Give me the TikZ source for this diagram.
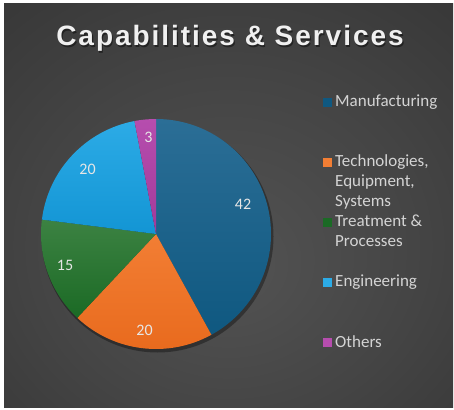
\documentclass[tikz,border=0pt]{standalone}
\usepackage{fontspec}
\setmainfont{Carlito}
\newfontfamily\headfont[LetterSpace=7]{Liberation Sans}
\usetikzlibrary{positioning}

\definecolor{bglight}{HTML}{535353}
\definecolor{bgmid}{HTML}{444444}
\definecolor{bgdark}{HTML}{262626}
\definecolor{mfgtop}{HTML}{2B6E96}
\definecolor{mfgbot}{HTML}{0F5880}
\definecolor{techtop}{HTML}{F27E34}
\definecolor{techbot}{HTML}{E8691C}
\definecolor{treattop}{HTML}{3C8242}
\definecolor{treatbot}{HTML}{1B6A25}
\definecolor{engtop}{HTML}{2CABE6}
\definecolor{engbot}{HTML}{1395D4}
\definecolor{othtop}{HTML}{B64DAE}
\definecolor{othbot}{HTML}{A23A9A}
\definecolor{valtext}{HTML}{E6E6E6}
\definecolor{keytextcol}{HTML}{D4D4D4}

\pgfdeclareradialshading{bgglow}{\pgfpoint{0bp}{-8bp}}{color(0bp)=(bglight); color(22bp)=(bgmid); color(62bp)=(bgdark)}

\tikzset{
  titletext/.style={font=\headfont\bfseries\fontsize{28}{32}\selectfont,inner sep=0pt,anchor=base},
  vallabel/.style={font=\fontsize{16}{18}\selectfont,text=valtext,inner sep=0pt,anchor=base},
  keybox/.style={minimum size=9.5pt,inner sep=0pt},
  keytext/.style={font=\fontsize{17}{20}\selectfont,text=keytextcol,inner sep=0pt,anchor=base west,align=left},
}

\begin{document}
\begin{tikzpicture}[x=1pt,y=1pt]
  \useasboundingbox (0,0) rectangle (454,409);
  \fill[white] (0,0) rectangle (454,409);
  \shade[shading=bgglow] (4,2) rectangle (453,405);

  \node[titletext,text=black,opacity=.45] (titleshadow) at (231.2,361.8) {Capabilities \& Services};
  \node[titletext,text=white!94!black] (title) at (230,363) {Capabilities \& Services};

  % pie
  \coordinate (c) at (156,175);
  \fill[black,opacity=.35] (157.5,172.5) circle (116);
  \shade[top color=mfgtop,bottom color=mfgbot] (c) -- ++(90:115) arc[start angle=90,end angle=-61.2,radius=115] -- cycle;
  \shade[top color=techtop,bottom color=techbot] (c) -- ++(-61.2:115) arc[start angle=-61.2,end angle=-133.2,radius=115] -- cycle;
  \shade[top color=treattop,bottom color=treatbot] (c) -- ++(-133.2:115) arc[start angle=-133.2,end angle=-187.2,radius=115] -- cycle;
  \shade[top color=engtop,bottom color=engbot] (c) -- ++(-187.2:115) arc[start angle=-187.2,end angle=-259.2,radius=115] -- cycle;
  \shade[top color=othtop,bottom color=othbot] (c) -- ++(-259.2:115) arc[start angle=-259.2,end angle=-270,radius=115] -- cycle;

  \node[vallabel] (vmfg) at (243,199) {42};
  \node[vallabel] (vtech) at (144.5,74) {20};
  \node[vallabel] (vtreat) at (65,138) {15};
  \node[vallabel] (veng) at (87.5,234) {20};
  \node[vallabel] (voth) at (148.5,266) {3};

  % legend (multi-line texts sit on their last line)
  \node[keytext] (tmfg) at (335,302) {Manufacturing};
  \node[keytext] (ttech) at (335,202) {Technologies,\\Equipment,\\Systems};
  \node[keytext] (ttreat) at (335,162) {Treatment \&\\Processes};
  \node[keytext] (teng) at (335,122) {Engineering};
  \node[keytext] (toth) at (335,62) {Others};
  \node[keybox,fill=mfgbot] (kmfg) at (327.5,306.5) {};
  \node[keybox,fill=techtop] (ktech) at (327.5,246.5) {};
  \node[keybox,fill=treatbot] (ktreat) at (327.5,186.5) {};
  \node[keybox,fill=engtop] (keng) at (327.5,126.5) {};
  \node[keybox,fill=othtop] (koth) at (327.5,66.5) {};
\end{tikzpicture}
\end{document}
